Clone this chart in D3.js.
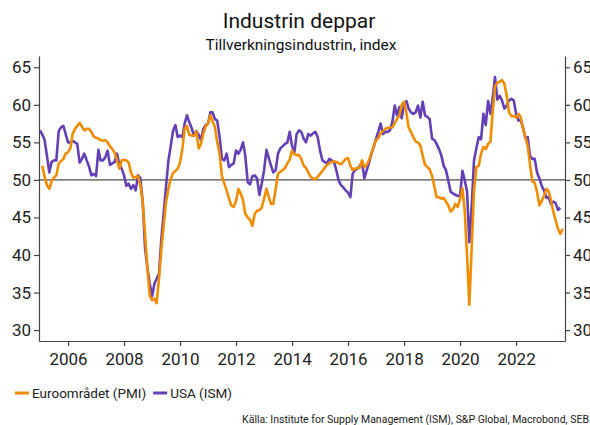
<!DOCTYPE html>
<html>
<head>
<meta charset="utf-8">
<script src="https://cdn.jsdelivr.net/npm/d3@7"></script>
<style>
  body { margin: 0; background: #fff; }
  svg { display: block; font-family: Roboto, sans-serif; }
</style>
</head>
<body>
<script>
// month-end observations, plotted at the first day of the following month
var seriesNames = ["Euroområdet (PMI)", "USA (ISM)"];
var seriesColors = ["#f08c00", "#6440b6"];

// USA (ISM), first point plotted at 2005-01-01
var usaStart = [2005, 0];
var usa = [
  56.6, 56.0, 55.3, 53.2, 51.0, 52.4, 52.6, 52.6, 56.5, 57.0, 57.2, 56.1,
  55.0, 55.0, 55.2, 55.0, 54.8, 52.3, 52.8, 53.5, 52.6, 51.8, 50.6, 50.8,
  50.5, 54.0, 52.6, 52.6, 53.0, 53.9, 52.0, 52.2, 52.4, 53.5, 52.0, 51.5,
  50.6, 49.2, 49.5, 48.8, 49.3, 48.6, 50.6, 50.2, 47.0, 41.0, 38.3, 36.2,
  34.5, 36.2, 36.8, 37.5, 42.0, 45.5, 49.0, 52.5, 54.5, 56.5, 57.3, 55.7,
  55.9, 55.7, 57.5, 58.6, 57.7, 56.9, 55.9, 56.5, 56.0, 55.3, 56.8, 57.3,
  57.5, 59.0, 59.0, 58.1, 57.9, 55.7, 52.8, 52.6, 53.5, 51.7, 52.0, 52.2,
  53.9, 53.5, 54.0, 55.0, 53.2, 49.7, 49.4, 50.5, 50.6, 50.2, 48.0, 49.5,
  51.3, 54.0, 53.0, 51.9, 51.0, 51.3, 53.5, 54.2, 54.5, 54.8, 55.0, 56.4,
  54.5, 53.7, 56.1, 56.6, 56.4, 55.5, 55.0, 56.1, 55.9, 56.2, 56.4, 55.7,
  53.9, 52.6, 52.4, 52.2, 52.8, 52.6, 52.4, 51.3, 49.9, 49.3, 49.0, 48.6,
  48.3, 47.7, 50.8, 51.3, 51.5, 51.8, 52.4, 50.2, 51.3, 52.3, 53.5, 54.4,
  55.5, 56.5, 57.5, 56.1, 56.4, 56.4, 56.6, 57.7, 59.9, 58.6, 59.7, 58.2,
  60.0, 60.5, 59.5, 59.0, 58.8, 59.0, 59.9, 58.3, 60.4, 58.6, 58.4, 58.1,
  55.5, 55.3, 54.8, 54.1, 53.3, 51.9, 51.3, 49.9, 48.4, 48.2, 48.0, 47.9,
  47.8, 51.2, 50.0, 48.5, 41.7, 46.5, 52.6, 54.2, 55.7, 55.4, 58.8, 57.3,
  60.5, 58.8, 60.8, 63.7, 60.7, 61.2, 60.6, 59.5, 59.9, 60.6, 60.8, 60.6,
  58.8, 57.9, 58.0, 57.0, 55.6, 55.7, 53.2, 52.8, 52.8, 51.0, 50.2, 49.2,
  48.6, 47.6, 47.7, 46.8, 47.1, 46.9, 46.0, 46.3
];

// Euroområdet (PMI), first point plotted at 2005-02-01
var euroStart = [2005, 1];
var euro = [
  51.9, 50.4, 49.3, 48.8, 49.8, 50.3, 50.6, 52.2, 52.5, 52.8, 53.5, 53.7,
  54.2, 56.1, 56.8, 57.2, 57.6, 57.1, 56.6, 56.8, 56.8, 56.4, 55.8, 55.6,
  55.5, 55.3, 55.2, 55.3, 55.0, 54.5, 54.1, 53.6, 52.6, 51.5, 52.6, 52.7,
  52.6, 52.3, 51.0, 50.3, 50.4, 50.5, 49.3, 47.0, 42.8, 38.2, 34.6, 34.0,
  34.2, 33.6, 36.8, 40.6, 43.9, 47.0, 48.8, 50.1, 50.9, 51.2, 51.5, 52.3,
  54.2, 56.8, 57.2, 56.0, 55.9, 55.9, 56.4, 54.2, 54.8, 56.2, 57.1, 57.5,
  58.6, 57.8, 57.0, 55.0, 53.5, 50.5, 49.5, 48.6, 47.5, 46.6, 46.4, 47.2,
  48.8, 48.2, 47.3, 45.5, 45.0, 44.7, 43.9, 45.5, 45.9, 46.0, 46.3, 47.5,
  48.8, 47.8, 46.8, 46.8, 48.8, 50.8, 51.1, 51.3, 51.6, 52.2, 52.7, 53.9,
  53.4, 53.3, 53.3, 52.8, 51.9, 51.6, 51.0, 50.4, 50.2, 50.1, 50.4, 50.8,
  51.2, 51.6, 52.0, 52.2, 52.4, 52.5, 52.4, 52.2, 52.1, 52.4, 52.8, 52.9,
  51.9, 51.3, 51.5, 51.6, 51.6, 52.6, 51.7, 52.0, 52.6, 53.5, 54.5, 55.3,
  55.6, 56.2, 56.5, 56.8, 56.9, 57.0, 57.0, 57.6, 58.1, 58.6, 60.0, 60.4,
  58.9, 57.0, 56.4, 55.7, 55.1, 55.0, 54.6, 53.2, 52.0, 51.7, 51.4, 50.5,
  49.1, 47.7, 47.7, 47.5, 47.6, 47.1, 46.6, 45.8, 46.1, 46.8, 46.4, 47.4,
  48.9, 46.0, 40.0, 33.4, 41.0, 48.5, 51.7, 51.9, 53.5, 54.4, 54.1, 54.8,
  55.1, 59.0, 62.5, 62.9, 63.1, 63.3, 62.8, 61.2, 59.0, 58.5, 58.5, 58.3,
  58.8, 58.4, 56.8, 55.7, 54.6, 52.1, 49.8, 49.6, 48.4, 46.6, 47.2, 47.9,
  48.8, 48.5, 47.3, 45.8, 44.6, 43.5, 42.8, 43.5
];

var yTicks = [30, 35, 40, 45, 50, 55, 60, 65];
var xTickYears = [2006, 2008, 2010, 2012, 2014, 2016, 2018, 2020, 2022];
var refLevel = 50;

var title = "Industrin deppar";
var subtitle = "Tillverkningsindustrin, index";
var source = "Källa: Institute for Supply Management (ISM), S&P Global, Macrobond, SEB";

function toPoints(start, values) {
  return values.map(function(v, i) {
    return { date: new Date(start[0], start[1] + i, 1), value: v };
  });
}

var width = 590, height = 425;
var plotLeft = 39, plotRight = 565, plotTop = 56, plotBottom = 341;

var x = d3.scaleTime()
  .domain([new Date(2004, 11, 18), new Date(2023, 9, 1)])
  .range([plotLeft, plotRight]);

var y = d3.scaleLinear()
  .domain([28.55, 66.5])
  .range([plotBottom, plotTop]);

var svg = d3.select("body").append("svg")
  .attr("width", width)
  .attr("height", height);

svg.append("text")
  .attr("x", 299).attr("y", 28)
  .attr("text-anchor", "middle")
  .style("font-size", "21px").style("fill", "#111")
  .text(title);

svg.append("text")
  .attr("x", 301).attr("y", 50)
  .attr("text-anchor", "middle")
  .style("font-size", "15.5px").style("fill", "#111")
  .text(subtitle);

var axisColor = "#444";

var leftAxis = svg.append("g")
  .attr("transform", "translate(" + plotLeft + ",0)")
  .call(d3.axisLeft(y).tickValues(yTicks).tickSize(5).tickSizeOuter(0).tickPadding(3));

var rightAxis = svg.append("g")
  .attr("transform", "translate(" + plotRight + ",0)")
  .call(d3.axisRight(y).tickValues(yTicks).tickSize(5).tickSizeOuter(0).tickPadding(3));

var bottomAxis = svg.append("g")
  .attr("transform", "translate(0," + plotBottom + ")")
  .call(d3.axisBottom(x)
    .tickValues(xTickYears.map(function(yr){ return new Date(yr, 0, 1); }))
    .tickFormat(d3.timeFormat("%Y"))
    .tickSize(5).tickSizeOuter(0).tickPadding(7));

[leftAxis, rightAxis, bottomAxis].forEach(function(g) {
  g.selectAll("path, line").attr("stroke", axisColor).attr("stroke-width", 1.2);
  g.selectAll("text").style("font-family", "Roboto, sans-serif")
    .style("font-size", "17px").attr("fill", "#222");
});

svg.append("line")
  .attr("x1", plotLeft).attr("x2", plotRight)
  .attr("y1", y(refLevel)).attr("y2", y(refLevel))
  .attr("stroke", "#222").attr("stroke-width", 1);

var line = d3.line()
  .x(function(d){ return x(d.date); })
  .y(function(d){ return y(d.value); });

var series = [
  { name: seriesNames[1], color: seriesColors[1], points: toPoints(usaStart, usa) },
  { name: seriesNames[0], color: seriesColors[0], points: toPoints(euroStart, euro) }
];

svg.selectAll("path.series")
  .data(series)
  .enter()
  .append("path")
  .attr("class", "series")
  .attr("d", function(d){ return line(d.points); })
  .attr("fill", "none")
  .attr("stroke", function(d){ return d.color; })
  .attr("stroke-width", 2.6)
  .attr("stroke-linejoin", "round");

// legend
var legendX = 15, legendY = 393;
seriesNames.forEach(function(name, i) {
  svg.append("line")
    .attr("x1", legendX).attr("x2", legendX + 14)
    .attr("y1", legendY).attr("y2", legendY)
    .attr("stroke", seriesColors[i]).attr("stroke-width", 3);
  var t = svg.append("text")
    .attr("x", legendX + 17).attr("y", legendY + 5)
    .style("font-size", "13.5px").style("fill", "#222")
    .text(name);
  legendX = legendX + 17 + t.node().getComputedTextLength() + 7;
});

svg.append("text")
  .attr("x", 589).attr("y", 423)
  .attr("text-anchor", "end")
  .style("font-size", "10.5px").style("fill", "#222")
  .text(source);
</script>
</body>
</html>
